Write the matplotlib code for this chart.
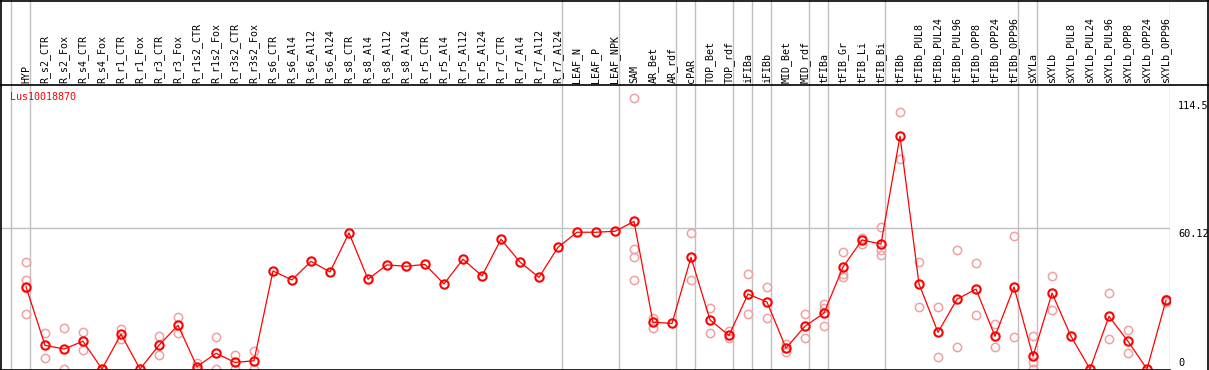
import matplotlib
matplotlib.use("Agg")
import matplotlib.pyplot as plt
from matplotlib.lines import Line2D

categories = ["HYP", "R_s2_CTR", "R_s2_Fox", "R_s4_CTR", "R_s4_Fox", "R_r1_CTR", "R_r1_Fox",
              "R_r3_CTR", "R_r3_Fox", "R_r1s2_CTR", "R_r1s2_Fox", "R_r3s2_CTR", "R_r3s2_Fox",
              "R_s6_CTR", "R_s6_Al4", "R_s6_Al12", "R_s6_Al24", "R_s8_CTR", "R_s8_Al4", "R_s8_Al12",
              "R_s8_Al24", "R_r5_CTR", "R_r5_Al4", "R_r5_Al12", "R_r5_Al24", "R_r7_CTR", "R_r7_Al4",
              "R_r7_Al12", "R_r7_Al24", "LEAF_N", "LEAF_P", "LEAF_NPK", "SAM", "AR_Bet", "AR_rdf",
              "cPAR", "TOP_Bet", "TOP_rdf", "iFIBa", "iFIBb", "MID_Bet", "MID_rdf", "tFIBa",
              "tFIB_Gr", "tFIB_Li", "tFIB_Bi", "tFIBb", "tFIBb_PUL8", "tFIBb_PUL24", "tFIBb_PUL96",
              "tFIBb_OPP8", "tFIBb_OPP24", "tFIBb_OPP96", "sXYLa", "sXYLb", "sXYLb_PUL8",
              "sXYLb_PUL24", "sXYLb_PUL96", "sXYLb_OPP8", "sXYLb_OPP24", "sXYLb_OPP96"]

means = [35.0, 10.1, 8.5, 11.8, 0.0, 14.8, 0.0, 10.1, 18.6, 1.0, 6.7, 2.8, 3.5,
         41.7, 37.9, 45.8, 41.3, 57.9, 38.2, 44.3, 43.7, 44.5, 36.2, 46.7, 39.6,
         55.2, 45.5, 39.0, 51.8, 58.2, 58.2, 58.6, 62.8, 19.9, 19.4, 47.5, 20.9,
         14.3, 31.9, 28.5, 8.9, 18.2, 23.8, 43.4, 54.9, 53.2, 99.1, 36.2, 15.6,
         29.7, 34.0, 13.9, 34.9, 5.4, 32.3, 13.9, 0.0, 22.4, 11.8, 0.0, 29.2]

replicates = [[45.4, 37.9, 34.3, 23.3], [15.2, 4.5], [17.4, 0.0], [15.7, 8.1], [0.0, 0.0],
              [17.0, 12.6], [0.0], [14.0, 5.8], [22.1, 15.2], [2.4, 0.0], [13.6, 0.0],
              [6.0, 0.0], [7.8, 0.0],
              [], [], [], [], [], [], [], [], [], [], [], [], [], [], [], [], [], [], [],
              [115.2, 50.9, 47.5, 37.7], [21.8, 17.6], [], [57.7, 37.7], [25.8, 15.2],
              [16.0, 13.2], [40.4, 23.4], [34.8, 21.6], [10.6, 7.1], [23.4, 13.0],
              [27.7, 25.8, 18.2], [49.6, 40.4, 39.3], [55.9, 53.2], [60.4, 50.6, 48.6],
              [109.2, 89.2], [45.4, 26.2], [26.2, 5.0], [50.5, 9.2], [45.0, 22.8],
              [19.0, 9.2], [56.5, 13.5], [13.9, 3.1, 0.0], [39.4, 25.0], [], [],
              [32.2, 12.6], [16.6, 6.7], [], [29.8, 28.4]]

group_ends = [-1, 0, 28, 31, 34, 35, 37, 38, 39, 41, 42, 45, 52, 53, 60]
right_ticks = [114.5, 60.12, 0]
gene = "Lus10018870"

W, H = 1209, 370
fig = plt.figure(figsize=(W / 100, H / 100), dpi=100)

x0 = 26.0
dx = 19.0
plot_right = 1170.0
header_px = 85.0
bottom_px = 369.0
ymax = (bottom_px - header_px) / 2.35

xl = (0 - x0) / dx
xr = (plot_right - x0) / dx

ax = fig.add_axes([0, (H - bottom_px) / H, plot_right / W, (bottom_px - header_px) / H])
hx = fig.add_axes([0, (H - header_px) / H, plot_right / W, header_px / H], sharex=ax)

xs = list(range(len(categories)))
ax.set_xlim(xl, xr)
ax.set_ylim(0, ymax)

mono = "DejaVu Sans Mono"
grey = "#c0c0c0"

for g in group_ends:
    ax.axvline(g + 0.23, color=grey, lw=1.0, zorder=0)
    hx.axvline(g + 0.23, color=grey, lw=1.0, zorder=0)
ax.axhline(60.12, color=grey, lw=1.0, zorder=0)

# replicate points
rx, ry = [], []
for i, reps in enumerate(replicates):
    for v in reps:
        rx.append(i)
        ry.append(v)
ax.plot(rx, ry, linestyle="none", marker="o", markersize=6.0, markerfacecolor="none",
        markeredgecolor="#f0a0a0", markeredgewidth=1.1, zorder=2)

ax.plot(xs, means, color="#ff0000", lw=0.9, zorder=3)
ax.plot(xs, means, linestyle="none", marker="o", markersize=6.0, markerfacecolor="none",
        markeredgecolor="#ff0000", markeredgewidth=1.5, zorder=4)

for a in (ax, hx):
    a.set_xticks([])
    a.set_yticks([])
    for s in a.spines.values():
        s.set_visible(False)
    a.patch.set_alpha(0)

hx.set_ylim(0, 1)
for i, c in enumerate(categories):
    hx.text(i, 2.0 / header_px, c, rotation=90, ha="center", va="bottom",
            fontsize=7.2, family=mono, color="black")

ax.text(10 / plot_right, (bottom_px - 97) / (bottom_px - header_px), gene,
        transform=ax.transAxes, color="#ff0000", fontsize=7.2, family=mono, va="center", ha="left")

# right-hand value labels
for v in right_ticks:
    ypix = bottom_px - v * 2.35
    if v == 0:
        yc = 362.5
    else:
        yc = ypix + 6.5
    fig.text(1178 / W, 1 - yc / H, f"{v:g}", fontsize=7.4, family=mono, color="black",
             ha="left", va="center")

# frame lines
for (xa, ya, xb, yb) in [(0.5, 0.5, W, 0.5), (0, header_px, W, header_px),
                         (0.5, 0, 0.5, H), (0, bottom_px + 0.5, plot_right, bottom_px + 0.5),
                         (W - 1, 0, W - 1, H)]:
    fig.add_artist(Line2D([xa / W, xb / W], [1 - ya / H, 1 - yb / H], color="black", lw=1.2))

fig.savefig("out.png", dpi=100)
